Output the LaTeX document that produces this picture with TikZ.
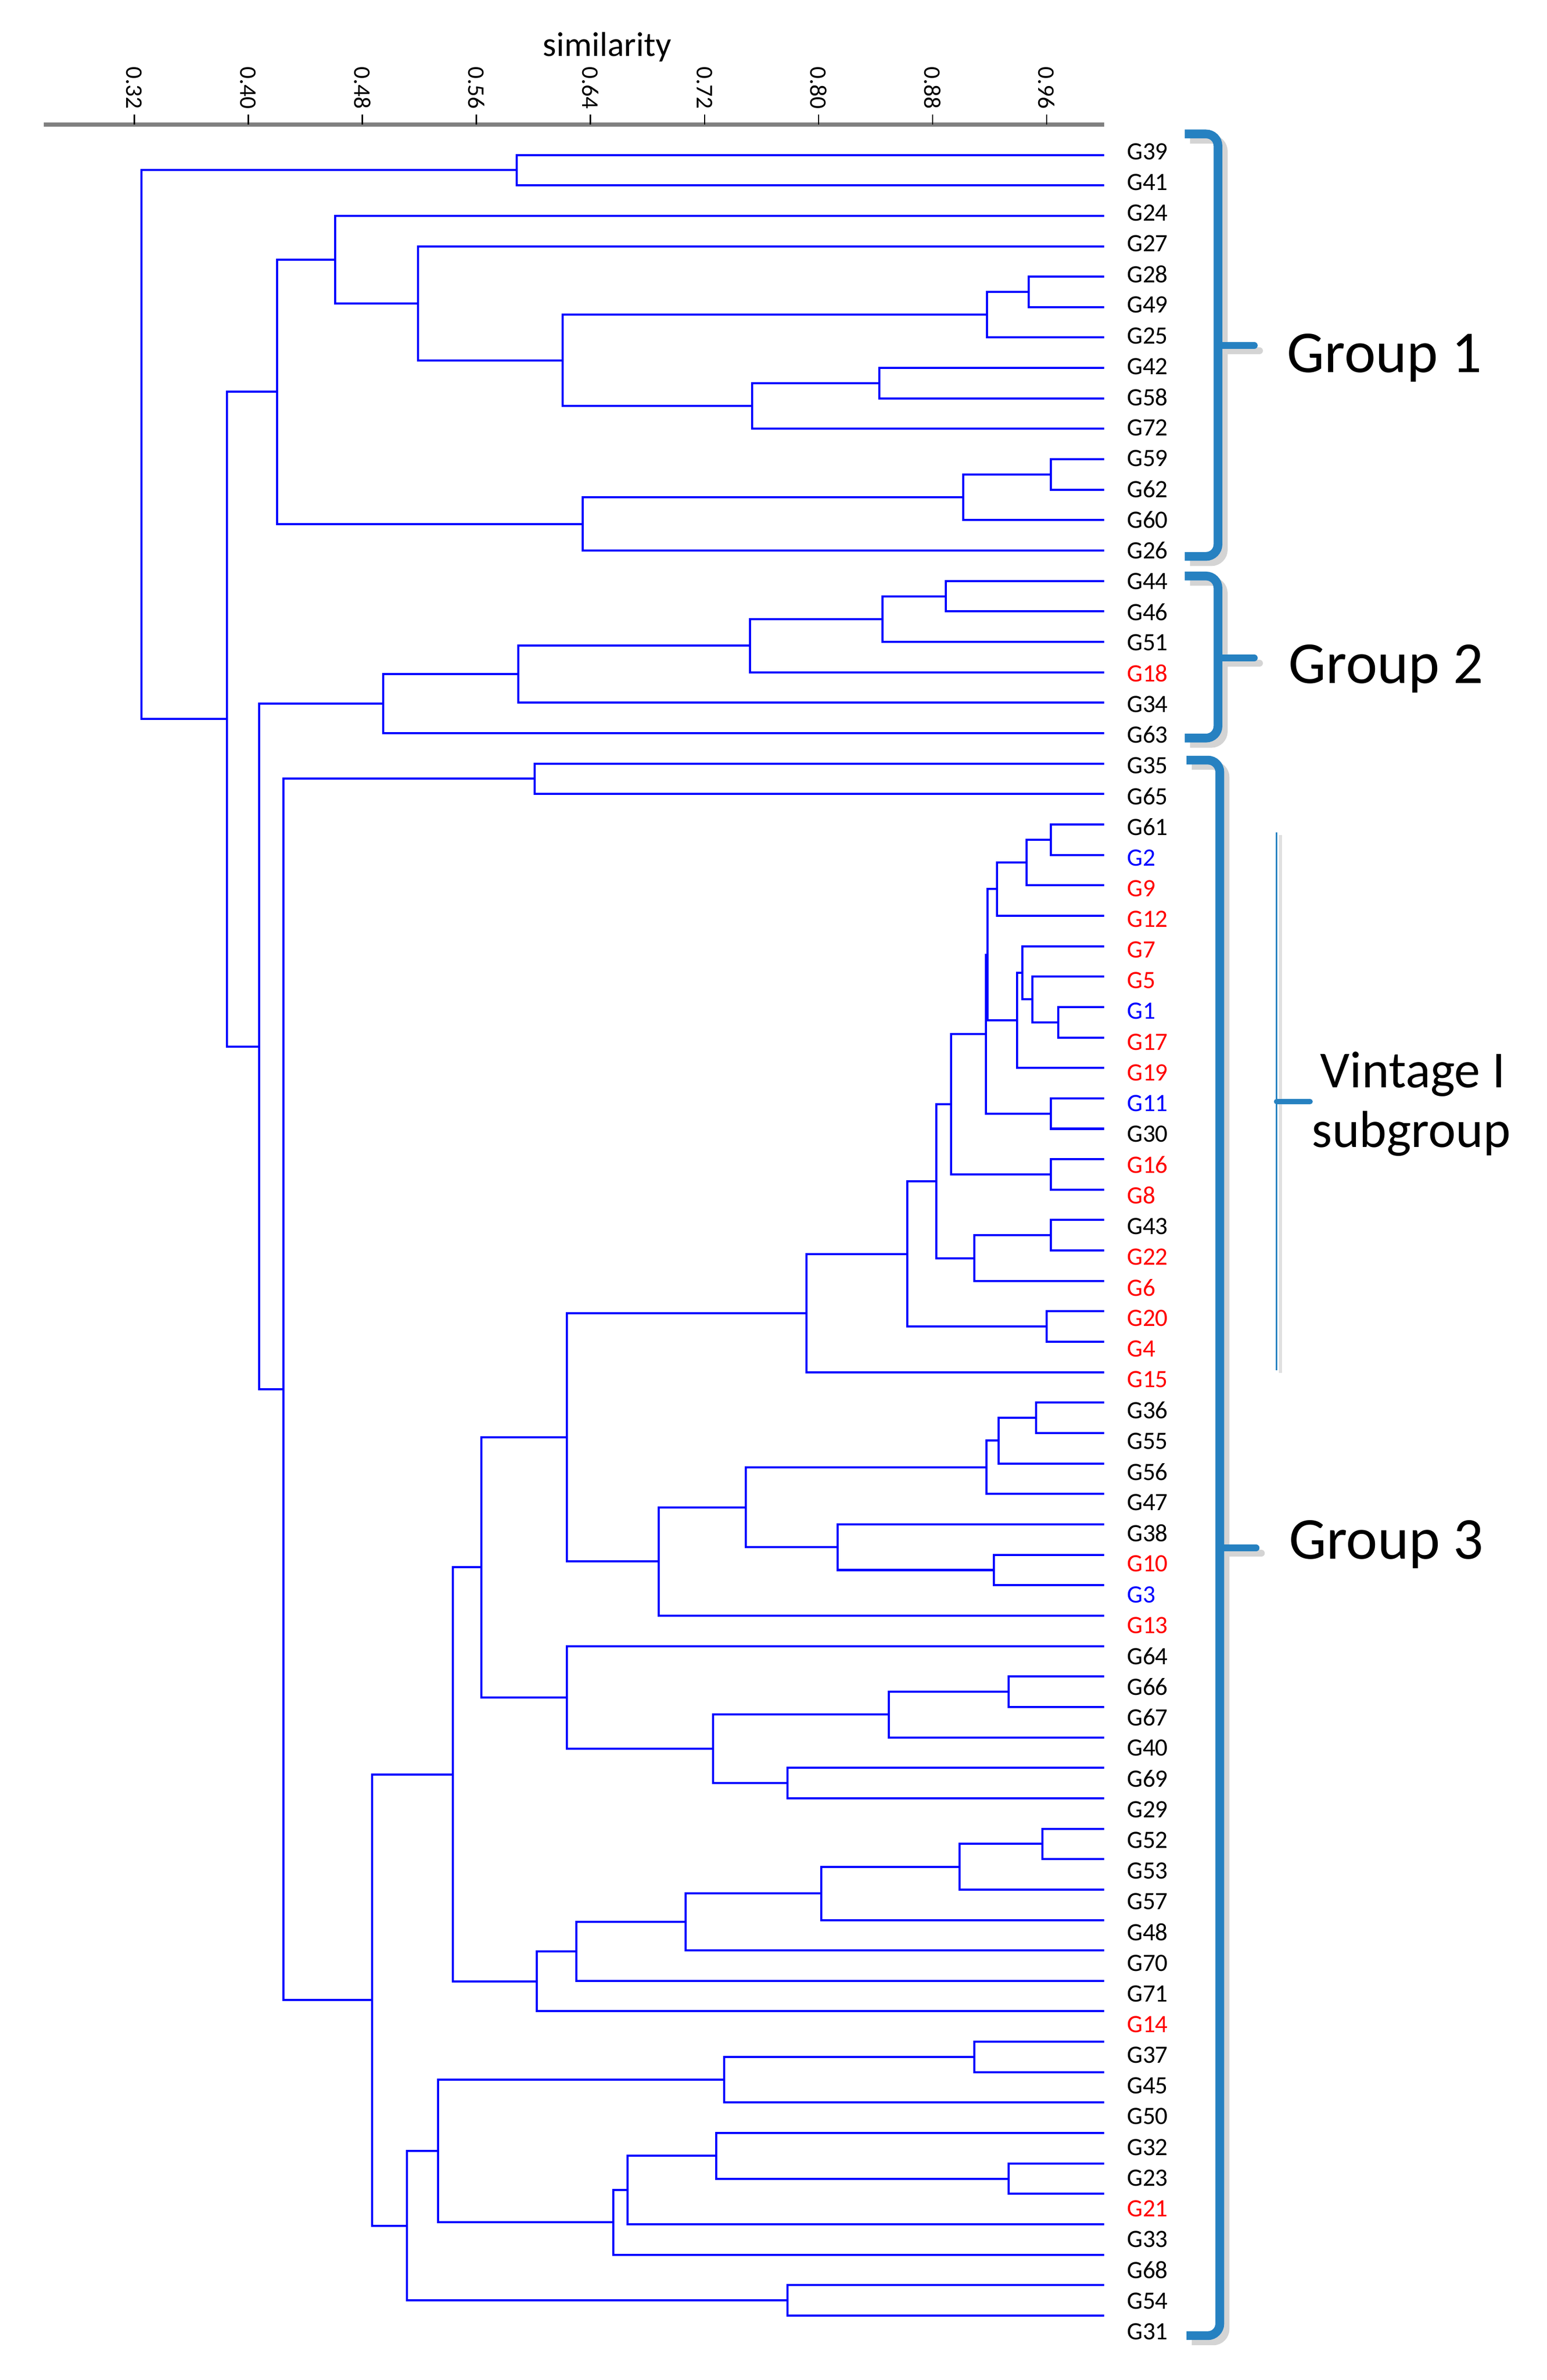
\documentclass[tikz,border=0pt]{standalone}
\usepackage{fontspec}
\setmainfont{Carlito}
\usetikzlibrary{calc,positioning}
\definecolor{bracecol}{RGB}{38,129,193}
\begin{document}
\begin{tikzpicture}[x=0.02cm,y=-0.02cm]
  \tikzstyle{branch}=[draw=blue,line width=0.8pt]
  \tikzstyle{leaf}=[inner sep=0pt,anchor=west,font=\fontsize{9.4}{11}\selectfont]
  \tikzstyle{ticklabel}=[inner sep=0pt,rotate=-90,anchor=east,font=\fontsize{9}{11}\selectfont]
  \tikzstyle{grpbrace}=[draw=bracecol,line width=3.3pt]
  \tikzstyle{braceshadow}=[draw=black!17,line width=3.3pt]
  \tikzstyle{grouplabel}=[inner sep=0pt,anchor=base,font=\fontsize{22.4}{26}\selectfont]
  \tikzstyle{sublabel}=[inner sep=0pt,anchor=base,font=\fontsize{19.6}{23}\selectfont]
  \def\xend{731} % x of the leaf tips
  \def\ytop{102.6} % y of the first leaf
  \def\dy{20.15} % leaf spacing
  \def\xlab{745.9} % x of the leaf names
  \def\ylab{100.3} % y of the first leaf name
  \def\dylab{20.33} % spacing of the leaf names
  \def\merge#1#2#3#4{\path ($(#3)!0.5!(#4)$) coordinate (m);
    \coordinate (#1) at (#2,0 |- m);
    \draw[branch] (#3) -| (#1) |- (#4);}
  \useasboundingbox (0,0) rectangle (1024.1,1575.9);
  % axis
  \node[font=\fontsize{13}{15}\selectfont] (title) at (402,31) {similarity};
  \draw[draw=black!50,line width=1.5pt] (29,82.5) -- (731,82.5);
  \foreach \s [count=\k from 0] in {0.32,0.40,0.48,0.56,0.64,0.72,0.80,0.88,0.96}{
    \draw[line width=0.5pt] (88.9+\k*75.52,75.7) -- (88.9+\k*75.52,82.5);
    \node[ticklabel] (tick\k) at (88.9+\k*75.52,72.5) {\s};
  }
  % leaves
  \foreach \name/\col [count=\i from 0] in {G39/black,G41/black,G24/black,G27/black,G28/black,G49/black,
      G25/black,G42/black,G58/black,G72/black,G59/black,G62/black,G60/black,G26/black,
      G44/black,G46/black,G51/black,G18/red,G34/black,G63/black,
      G35/black,G65/black,G61/black,G2/blue,G9/red,G12/red,G7/red,G5/red,G1/blue,G17/red,
      G19/red,G11/blue,G30/black,G16/red,G8/red,G43/black,G22/red,G6/red,G20/red,G4/red,G15/red,
      G36/black,G55/black,G56/black,G47/black,G38/black,G10/red,G3/blue,G13/red,
      G64/black,G66/black,G67/black,G40/black,G69/black,G29/black,G52/black,G53/black,G57/black,
      G48/black,G70/black,G71/black,G14/red,G37/black,G45/black,G50/black,G32/black,G23/black,
      G21/red,G33/black,G68/black,G54/black,G31/black}{
    \coordinate (\name) at (\xend,\ytop+\i*\dy);
    \node[leaf,text=\col] (lab\name) at (\xlab,\ylab+\i*\dylab) {\name};
  }
  % group 1
  \merge{a1}{342.3}{G39}{G41}
  \merge{b1}{681.1}{G28}{G49}
  \merge{b2}{653.5}{b1}{G25}
  \merge{b3}{582.1}{G42}{G58}
  \merge{b4}{497.9}{b3}{G72}
  \merge{b5}{372.6}{b2}{b4}
  \merge{b6}{276.8}{G27}{b5}
  \merge{b7}{221.9}{G24}{b6}
  \merge{b8}{695.8}{G59}{G62}
  \merge{b9}{637.8}{b8}{G60}
  \merge{b10}{386.0}{b9}{G26}
  \merge{b11}{183.6}{b7}{b10}
  % group 2
  \merge{c1}{626.3}{G44}{G46}
  \merge{c2}{584.4}{c1}{G51}
  \merge{c3}{496.5}{c2}{G18}
  \merge{c4}{343.2}{c3}{G34}
  \merge{c5}{253.6}{c4}{G63}
  % group 3
  \merge{d1}{354.1}{G35}{G65}
  \merge{v1}{695.9}{G61}{G2}
  \merge{v2}{679.7}{v1}{G9}
  \merge{v3}{660.2}{v2}{G12}
  \merge{v4}{700.8}{G1}{G17}
  \merge{v5}{683.7}{G5}{v4}
  \merge{v6}{677.1}{G7}{v5}
  \merge{v7}{673.5}{v6}{G19}
  \merge{v8}{653.8}{v3}{v7}
  \merge{v9}{695.8}{G11}{G30}
  \merge{v10}{652.8}{v8}{v9}
  \merge{v11}{695.8}{G16}{G8}
  \merge{v12}{629.8}{v10}{v11}
  \merge{v13}{695.8}{G43}{G22}
  \merge{v14}{645.0}{v13}{G6}
  \merge{v15}{620.0}{v12}{v14}
  \merge{v16}{693.1}{G20}{G4}
  \merge{v17}{600.7}{v15}{v16}
  \merge{v18}{534.1}{v17}{G15}
  \merge{e1}{686.1}{G36}{G55}
  \merge{e2}{661.1}{e1}{G56}
  \merge{e3}{653.1}{e2}{G47}
  \merge{e4}{658.2}{G10}{G3}
  \merge{e5}{554.8}{G38}{e4}
  \merge{e6}{493.9}{e3}{e5}
  \merge{e7}{436.3}{e6}{G13}
  \merge{e8}{375.3}{v18}{e7}
  \merge{f1}{667.9}{G66}{G67}
  \merge{f2}{588.7}{f1}{G40}
  \merge{f3}{521.4}{G69}{G29}
  \merge{f4}{472.3}{f2}{f3}
  \merge{f5}{375.3}{G64}{f4}
  \merge{g1}{318.9}{e8}{f5}
  \merge{h1}{690.4}{G52}{G53}
  \merge{h2}{635.3}{h1}{G57}
  \merge{h3}{543.8}{h2}{G48}
  \merge{h4}{454.0}{h3}{G70}
  \merge{h5}{381.6}{h4}{G71}
  \merge{h6}{355.4}{h5}{G14}
  \merge{g2}{299.9}{g1}{h6}
  \merge{k1}{645.0}{G37}{G45}
  \merge{k2}{479.4}{k1}{G50}
  \merge{k3}{667.9}{G23}{G21}
  \merge{k4}{474.4}{G32}{k3}
  \merge{k5}{415.5}{k4}{G33}
  \merge{k6}{406.2}{k5}{G68}
  \merge{k7}{290.1}{k2}{k6}
  \merge{k8}{521.4}{G54}{G31}
  \merge{k9}{269.4}{k7}{k8}
  \merge{g3}{246.5}{g2}{k9}
  \merge{d2}{187.7}{d1}{g3}
  % root
  \merge{r1}{171.6}{c5}{d2}
  \merge{r2}{150.2}{b11}{r1}
  \merge{r3}{93.5}{a1}{r2}
  % brackets
  \foreach \yt/\ym/\yb/\xb in {88.7/228.7/368.4/806.5,381.4/435.6/488.7/806.5,503.3/1025/1546.5/807.7}{
    \draw[braceshadow,rounded corners=4.5pt,xshift=0.07cm,yshift=-0.07cm] (\xb-22,\yt) -- (\xb,\yt) -- (\xb,\yb) -- (\xb-22,\yb);
    \draw[braceshadow,line width=2.6pt,line cap=round,xshift=0.07cm,yshift=-0.07cm] (\xb,\ym) -- (\xb+24,\ym);
    \draw[grpbrace,rounded corners=4.5pt] (\xb-22,\yt) -- (\xb,\yt) -- (\xb,\yb) -- (\xb-22,\yb);
    \draw[grpbrace,line width=2.6pt,line cap=round] (\xb,\ym) -- (\xb+24,\ym);
  }
  \draw[draw=black!12,line width=1.2pt] (847.8,553) -- (847.8,909);
  \draw[draw=bracecol,line width=0.6pt] (845.3,551.2) -- (845.3,907.3);
  \draw[grpbrace,line width=2pt,line cap=round] (845.3,729.4) -- (867.5,729.4);
  % labels
  \node[grouplabel] (grp1) at (916.8,246.7) {Group 1};
  \node[grouplabel] (grp2) at (917.8,452.4) {Group 2};
  \node[grouplabel] (grp3) at (918,1032.1) {Group 3};
  \node[sublabel] (vint1) at (935.6,720) {Vintage I};
  \node[sublabel] (vint2) at (934.5,759.5) {subgroup};
\end{tikzpicture}
\end{document}
